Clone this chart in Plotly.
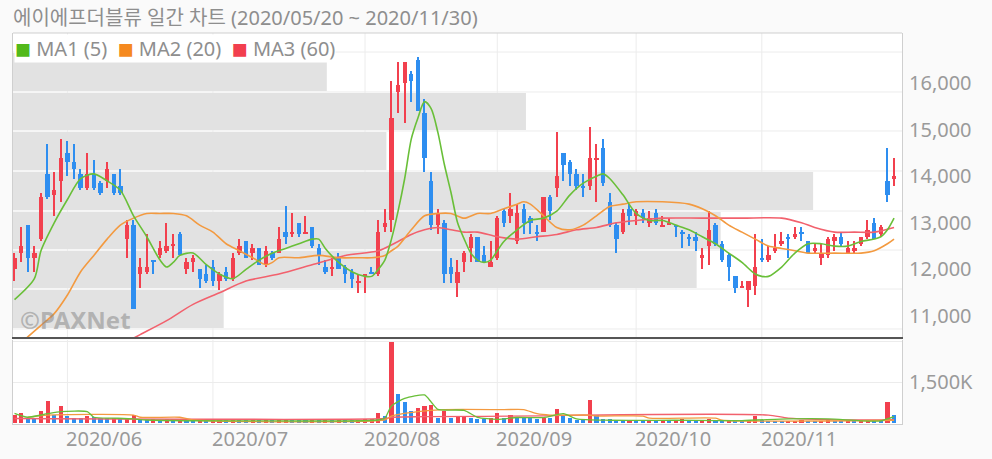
import plotly.graph_objects as go

# ---------------- data ----------------
title_text = "에이에프더블류 일간 차트 (2020/05/20 ~ 2020/11/30)"
month_labels = ["2020/06", "2020/07", "2020/08", "2020/09", "2020/10", "2020/11"]
month_start_idx = [8, 30, 53, 73, 94, 113]

opens = [12000, 12350, 12950, 12250, 12650, 14050, 13600, 13900, 14500, 14300,
         14050, 13750, 14050, 13850, 13900, 14050, 13800, 12650, 12950, 11900,
         11950, 12200, 12300, 12400, 12500, 12750, 12000, 12150, 12000, 11900,
         12050, 11750, 11950, 11800, 12350, 12600, 12350, 12450, 12100, 12350,
         12350, 12800, 12750, 13000, 12750, 12900, 12450, 12050, 12000, 12250,
         12050, 11950, 11700, 11850, 11950, 11900, 12900, 13050, 15800, 16000,
         16200, 16500, 15350, 13900, 12950, 13000, 12050, 11700, 12150, 12450,
         12700, 12300, 12050, 12250, 13250, 13150, 12600, 13300, 13100, 12800,
         12800, 13550, 13750, 14500, 14300, 14050, 13800, 13800, 14350, 14600,
         13450, 12950, 12800, 13300, 13150, 13200, 13000, 13200, 12900, 12950,
         12950, 12800, 12700, 12700, 12250, 12500, 12950, 12550, 12300, 11850,
         11600, 11550, 11650, 12250, 12200, 12400, 12550, 12700, 12700, 12800,
         12600, 12400, 12250, 12300, 12600, 12700, 12350, 12400, 12550, 12700,
         13000, 12750, 13900, 13950]
highs = [12350, 12900, 12950, 12500, 13650, 14700, 14100, 14800, 14750, 14700,
         14150, 14500, 14350, 13900, 14300, 14050, 14150, 13050, 13050, 12250,
         12750, 12200, 12600, 13000, 12750, 12800, 12250, 12300, 12000, 12100,
         12200, 11950, 12050, 12350, 12650, 12600, 12550, 12450, 12500, 12400,
         12900, 13350, 13200, 13000, 13150, 12900, 12550, 12200, 12250, 12350,
         12100, 12000, 11900, 11900, 12050, 13050, 13300, 16050, 16450, 16450,
         16250, 16550, 15650, 14100, 13300, 13050, 12250, 12200, 12400, 12750,
         12700, 12500, 12600, 13150, 13300, 13650, 13400, 13400, 13150, 12950,
         13550, 13600, 14950, 14500, 14350, 14150, 14050, 15050, 14700, 14800,
         13650, 13000, 13300, 13400, 13300, 13300, 13250, 13300, 13150, 13100,
         12950, 12850, 12750, 12800, 12450, 13250, 13000, 12600, 12350, 11850,
         11750, 11750, 12750, 12650, 12500, 12750, 12800, 12750, 12900, 12900,
         12600, 12550, 12550, 12700, 12750, 12800, 12600, 12600, 12700, 13050,
         13100, 12950, 14600, 14400]
lows = [11750, 12150, 11950, 11950, 12600, 13500, 13150, 13450, 14000, 13950,
        13700, 13700, 13700, 13600, 13750, 13600, 13600, 12250, 11150, 11600,
        11900, 11900, 12250, 12350, 12250, 12300, 11900, 11950, 11600, 11700,
        11650, 11550, 11750, 11750, 12300, 12250, 12200, 12100, 12050, 12200,
        12350, 12550, 12700, 12700, 12750, 12450, 12100, 11900, 11850, 12000,
        11700, 11600, 11500, 11500, 11900, 11850, 12800, 12800, 15350, 15150,
        15600, 15400, 14100, 12850, 12750, 11700, 11700, 11400, 11950, 12150,
        12150, 12150, 12050, 12200, 12900, 13000, 12550, 12750, 12750, 12600,
        12800, 13050, 13550, 13900, 13800, 13700, 13550, 13700, 13450, 13800,
        12900, 12350, 12750, 12950, 12950, 13000, 12900, 12950, 12900, 12950,
        12700, 12450, 12500, 12400, 12000, 12100, 12500, 12150, 11750, 11500,
        11600, 11200, 11450, 12150, 12150, 12350, 12500, 12250, 12650, 12600,
        12350, 12350, 12100, 12250, 12400, 12500, 12350, 12350, 12500, 12650,
        12650, 12700, 13450, 13800]
closes = [12250, 12500, 12250, 12350, 13550, 13550, 13700, 14400, 14300, 14150,
          13750, 14050, 13750, 13650, 14150, 13650, 13650, 12950, 11150, 12050,
          12050, 12150, 12450, 12500, 12550, 12300, 12150, 12250, 11800, 11750,
          11750, 11900, 11800, 12250, 12500, 12250, 12450, 12100, 12400, 12250,
          12650, 12700, 12800, 12750, 12800, 12500, 12300, 11950, 12050, 12000,
          11900, 11800, 11750, 11900, 11900, 12800, 13000, 15250, 15950, 16450,
          16050, 15400, 14400, 12950, 13200, 11900, 11900, 11950, 12350, 12700,
          12150, 12150, 12150, 13100, 13000, 13300, 13200, 13000, 13000, 12750,
          13550, 13250, 14000, 14250, 14050, 13800, 13750, 14400, 14400, 13850,
          12950, 12650, 13200, 13150, 13250, 13100, 13100, 13000, 12950, 13000,
          12900, 12750, 12650, 12600, 12300, 12850, 12550, 12200, 12050, 11600,
          11650, 11750, 12050, 12200, 12300, 12450, 12600, 12650, 12750, 12750,
          12350, 12450, 12350, 12650, 12700, 12550, 12450, 12450, 12700, 12850,
          12650, 12900, 13600, 14000]
volumes_k = [290, 350, 180, 170, 430, 790, 300, 610, 260, 180,
             170, 260, 210, 180, 170, 180, 160, 200, 300, 150,
             120, 140, 110, 130, 100, 120, 110, 90, 120, 100,
             110, 130, 100, 120, 110, 100, 130, 110, 120, 100,
             110, 130, 120, 110, 100, 120, 110, 130, 100, 120,
             110, 100, 120, 130, 150, 380, 240, 2980, 1050, 750,
             440, 540, 610, 660, 200, 430, 200, 210, 220, 200,
             160, 130, 200, 350, 200, 300, 200, 190, 185, 150,
             200, 190, 500, 300, 200, 100, 95, 840, 300, 160,
             150, 100, 90, 120, 110, 90, 100, 80, 90, 70,
             80, 140, 90, 80, 100, 150, 90, 80, 100, 90,
             70, 120, 250, 110, 90, 80, 70, 80, 90, 110,
             80, 70, 90, 100, 80, 70, 80, 70, 90, 100,
             80, 70, 780, 300]

# moving averages of price, read at sample days
ma5_idx = [0, 3, 4, 6, 8, 10, 12, 14, 16, 18, 20, 22, 23, 24, 25, 27, 29, 31, 33, 35,
           37, 39, 41, 43, 45, 46, 47, 49, 51, 53, 54, 55, 56, 57, 58, 59, 60, 61, 62, 63,
           64, 65, 66, 67, 68, 69, 70, 71, 72, 73, 74, 76, 78, 80, 82, 84, 86, 88, 89, 90,
           92, 94, 96, 98, 100, 102, 104, 106, 108, 110, 112, 113, 114, 116, 118, 120, 122, 124, 126, 128,
           130, 131, 132, 133]
ma5_val = [11350, 11800, 12400, 13000, 13500, 13950, 14050, 13900, 13700, 13150,
           12700, 12200, 12050, 12150, 12300, 12350, 12100, 11900, 11800, 12000,
           12200, 12350, 12450, 12550, 12650, 12650, 12450, 12150, 11950, 11850,
           11850, 12000, 12200, 12650, 13250, 13950, 14800, 15250, 15600, 15450,
           14950, 14250, 13650, 13000, 12650, 12350, 12200, 12150, 12200, 12400,
           12600, 12850, 13050, 13100, 13250, 13600, 13850, 14000, 14050, 13950,
           13600, 13200, 13050, 13050, 12950, 12850, 12700, 12550, 12350, 12150,
           11900, 11850, 11850, 12050, 12350, 12550, 12550, 12500, 12500, 12600,
           12650, 12700, 12850, 13100]
ma20_idx = [0, 2, 4, 6, 8, 10, 12, 14, 16, 18, 20, 22, 24, 26, 28, 30, 32, 34, 36, 38, 39,
            40, 43, 46, 49, 52, 54, 56, 57, 58, 60, 62, 64, 66, 68, 70, 72, 74, 76, 77, 78,
            80, 82, 84, 86, 88, 90, 92, 94, 98, 102, 104, 106, 108, 110, 112, 114, 116, 118, 120, 124,
            128, 130, 132, 133]
ma20_val = [10300, 10550, 10800, 11050, 11450, 11950, 12300, 12650, 12950, 13100, 13200,
            13200, 13200, 13150, 12950, 12800, 12550, 12400, 12250, 12100, 12150,
            12250, 12250, 12300, 12250, 12250, 12250, 12300, 12400, 12500, 12850,
            13150, 13200, 13200, 13100, 13200, 13200, 13300, 13400, 13450, 13400,
            13150, 12900, 12850, 12950, 13150, 13350, 13400, 13450, 13450, 13400,
            13300, 13150, 12950, 12800, 12650, 12500, 12450, 12400, 12350, 12350,
            12350, 12400, 12550, 12650]
ma60_idx = [17, 19, 23, 27, 31, 35, 40, 45, 50, 55, 58, 60, 62, 64, 66, 68, 70, 73, 76, 79,
            82, 85, 88, 91, 94, 98, 104, 110, 116, 119, 121, 124, 127, 130, 133]
ma60_val = [10450, 10600, 10900, 11250, 11500, 11750, 11900, 12100, 12300, 12400,
            12600, 12750, 12850, 12900, 12850, 12800, 12800, 12700, 12650, 12700,
            12750, 12850, 12900, 13000, 13050, 13100, 13100, 13100, 13100, 13000,
            12900, 12800, 12800, 12800, 12900]

# moving averages of volume (thousand shares)
vma5_idx = [0, 2, 5, 7, 11, 12, 15, 18, 20, 55, 56, 57, 59, 62, 63, 64, 68, 70, 73, 76,
            80, 83, 85, 90, 100, 110, 117, 123, 128, 131, 133]
vma5_val = [355, 210, 340, 415, 415, 210, 180, 150, 110, 110, 180, 620, 900, 1025, 770,
            500, 460, 210, 135, 200, 200, 340, 150, 100, 100, 90, 150, 150, 80, 80, 230]
vma20_idx = [2, 5, 18, 19, 25, 27, 56, 57, 61, 65, 74, 77, 79, 81, 87, 88, 95, 96, 106, 107, 133]
vma20_val = [210, 290, 290, 210, 210, 110, 110, 255, 415, 490, 490, 490, 340, 290, 290,
             255, 255, 180, 180, 100, 100]
vma60_idx = [0, 56, 57, 62, 80, 86, 114, 117, 129, 133]
vma60_val = [165, 165, 210, 230, 260, 290, 290, 180, 110, 120]

# volume-by-price profile (band edges in won, relative band length)
profile_edges = [10721, 11579, 12416, 13253, 14112, 14970, 15807, 16665]
profile_len = [0.237, 0.769, 0.796, 0.900, 0.420, 0.577, 0.353]

price_ticks = [11000, 12000, 13000, 14000, 15000, 16000]
legend_items = [("MA1 (5)", "#52b91b"), ("MA2 (20)", "#f5891f"), ("MA3 (60)", "#f23f4e")]

# ---------------- styling ----------------
RED = "#f2404e"
BLUE = "#2e8ef0"
GREEN_L = "#69bf38"
ORANGE_L = "#f39a40"
RED_L = "#f2616d"
TXT = "#8e8e8e"
GRID = "#ececec"
FONT = "Noto Sans, Noto Sans CJK KR, sans-serif"
NB = "\u00a0"

W, H = 992, 459
PL, PT = 13, 33          # plot area left / top
PR, PB = 902, 424        # plot area right / bottom
plot_h = PB - PT

n = len(closes)
idx = list(range(n))
up = [closes[i] >= opens[i] for i in idx]
candle_col = [RED if u else BLUE for u in up]
vol = [v * 1000 for v in volumes_k]
vol_col = [RED if (i == 0 or volumes_k[i] >= volumes_k[i - 1]) else BLUE for i in idx]

fig = go.Figure()

# wicks
fig.add_trace(go.Bar(x=idx, y=[highs[i] - lows[i] for i in idx], base=lows,
                     width=0.2, marker=dict(color=candle_col, line=dict(width=0)),
                     xaxis="x", yaxis="y", hoverinfo="skip"))
# bodies
fig.add_trace(go.Bar(x=idx, y=[max(abs(closes[i] - opens[i]), 30) for i in idx],
                     base=[min(opens[i], closes[i]) for i in idx],
                     width=0.66, marker=dict(color=candle_col, line=dict(width=0)),
                     xaxis="x", yaxis="y",
                     customdata=list(zip(opens, highs, lows, closes)),
                     hovertemplate="O %{customdata[0]}<br>H %{customdata[1]}<br>L %{customdata[2]}<br>C %{customdata[3]}<extra></extra>"))

for xs, ys, col in [(ma60_idx, ma60_val, RED_L), (ma20_idx, ma20_val, ORANGE_L), (ma5_idx, ma5_val, GREEN_L)]:
    fig.add_trace(go.Scatter(x=xs, y=ys, mode="lines", line=dict(color=col, width=1.6, shape="spline", smoothing=0.8),
                             xaxis="x", yaxis="y", hoverinfo="skip"))

# volume
fig.add_trace(go.Bar(x=idx, y=vol, width=0.62, marker=dict(color=vol_col, line=dict(width=0)),
                     xaxis="x2", yaxis="y2"))
for xs, ys, col in [(vma60_idx, vma60_val, RED_L), (vma20_idx, vma20_val, ORANGE_L), (vma5_idx, vma5_val, GREEN_L)]:
    fig.add_trace(go.Scatter(x=xs, y=[v * 1000 for v in ys], mode="lines",
                             line=dict(color=col, width=1.3, shape="spline", smoothing=0.6),
                             xaxis="x2", yaxis="y2", hoverinfo="skip"))

shapes = []
# grid lines (drawn first, below everything)
for mi in month_start_idx:
    shapes.append(dict(type="line", xref="x", yref="y domain", x0=mi, x1=mi, y0=0, y1=1,
                       line=dict(color=GRID, width=1), layer="below"))
    shapes.append(dict(type="line", xref="x2", yref="y2 domain", x0=mi, x1=mi, y0=0, y1=1,
                       line=dict(color=GRID, width=1), layer="below"))
for e in profile_edges:
    shapes.append(dict(type="line", xref="x domain", yref="y", x0=0, x1=1, y0=e, y1=e,
                       line=dict(color=GRID, width=1), layer="below"))
# profile bands
for k, ln in enumerate(profile_len):
    shapes.append(dict(type="rect", xref="x domain", yref="y", x0=0, x1=ln,
                       y0=profile_edges[k] + 22, y1=profile_edges[k + 1] - 22,
                       fillcolor="#e2e2e2", line=dict(width=0), layer="below"))
shapes.append(dict(type="line", xref="paper", yref="paper", x0=0, x1=1, y0=1, y1=1,
                   line=dict(color="#cfcfcf", width=1)))

xr = [-0.23, 134.2]
annotations = []
annotations.append(dict(text=title_text, xref="paper", yref="paper", x=0, y=1 + 15.5 / plot_h,
                        xanchor="left", yanchor="middle", showarrow=False, xshift=-2,
                        font=dict(size=20, color=TXT, family=FONT)))
leg = (NB * 2).join(f'<span style="color:{c};font-size:16px">■</span>{NB}{t}' for t, c in legend_items)
annotations.append(dict(text=leg, xref="paper", yref="paper", x=0, y=1, xanchor="left", yanchor="top",
                        showarrow=False, bgcolor="white", borderpad=0, xshift=1, yshift=-1,
                        font=dict(size=20, color=TXT, family=FONT)))
annotations.append(dict(text="<b>©PAXNet</b>", xref="paper", yref="y", x=0.006, y=10914,
                        xanchor="left", yanchor="middle", showarrow=False,
                        font=dict(size=24, color="rgba(130,130,130,0.5)", family=FONT)))
for lab, mi in zip(month_labels, month_start_idx):
    annotations.append(dict(text=lab, xref="x2", yref="paper", x=mi, y=-14 / plot_h,
                            xanchor="left", yanchor="middle", showarrow=False, xshift=-3,
                            font=dict(size=20, color="#9a9a9a", family=FONT)))

fig.update_layout(
    width=W, height=H,
    margin=dict(l=PL, r=W - PR, t=PT, b=H - PB),
    paper_bgcolor="#fafafa", plot_bgcolor="white",
    showlegend=False, barmode="overlay", bargap=0,
    font=dict(family=FONT, color=TXT),
    shapes=shapes, annotations=annotations,
    xaxis=dict(domain=[0, 1], anchor="y", range=xr, showticklabels=False,
               showgrid=False, zeroline=False, showline=True, linecolor="#555555",
               linewidth=2, ticks=""),
    yaxis=dict(domain=[0.2225, 1], anchor="x", range=[10549, 17073], side="right",
               tickvals=price_ticks, ticktext=[f"{t:,}" for t in price_ticks],
               showgrid=False, zeroline=False, showline=True, mirror=True, linecolor="#cfcfcf",
               ticks="outside", ticklen=2, tickcolor="rgba(0,0,0,0)",
               tickfont=dict(size=20, color="#9a9a9a", family=FONT)),
    xaxis2=dict(domain=[0, 1], anchor="y2", range=xr, showticklabels=False,
                showgrid=False, zeroline=False, showline=True, linecolor="#cfcfcf", ticks=""),
    yaxis2=dict(domain=[0, 0.2148], anchor="x2", range=[-37000, 3037000], side="right",
                tickvals=[1500000, 3000000], ticktext=["1,500K", ""],
                showgrid=True, gridcolor=GRID, zeroline=False, showline=True, mirror=True,
                linecolor="#cfcfcf", ticks="outside", ticklen=2, tickcolor="rgba(0,0,0,0)",
                tickfont=dict(size=20, color="#9a9a9a", family=FONT)),
)

# remove the default 8px page margin so the figure fills the window exactly
fig.write_html("out.html", config={"displayModeBar": False},
               post_script="document.body.style.margin='0px';")
